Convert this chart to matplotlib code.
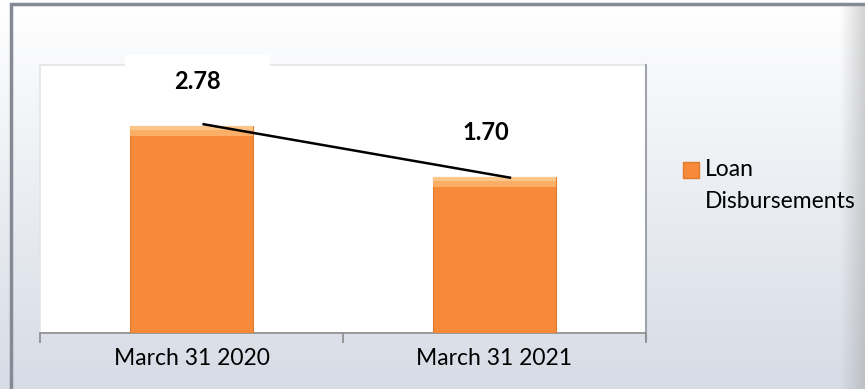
import numpy as np
import matplotlib.pyplot as plt
from matplotlib.patches import Rectangle

# =====================================
# Data
# =====================================
categories = ["March 31 2020", "March 31 2021"]
values = [2.78, 1.70]
labels = ["2.78", "1.70"]
label_dx = [4, -6]          # small horizontal nudges of the value labels (pt)

plt.rcParams['font.family'] = ['Lato', 'DejaVu Sans']

W, H = 865, 389

# =====================================
# Figure + background
# =====================================
fig = plt.figure(figsize=(W / 100, H / 100), dpi=100)

bg = fig.add_axes([0, 0, 1, 1], zorder=-10)
grad = np.linspace(0, 1, 256).reshape(-1, 1)
top_c = np.array([1.0, 1.0, 1.0])
bot_c = np.array([0.84, 0.86, 0.90])
img = top_c * (1 - grad[..., None]) + bot_c * grad[..., None]
img = np.repeat(img, 2, axis=1)
bg.imshow(img, aspect='auto', extent=[0, 1, 0, 1], origin='upper')
# darker bevel on the right edge
ramp = np.linspace(0, 1, 64).reshape(1, -1)
bev = np.ones((1, 64, 4))
bev[..., :3] = 0.62
bev[..., 3] = ramp * 0.45
bg.imshow(bev, aspect='auto', extent=[840 / W, 1, 0, 1 - 4 / H], origin='upper')
bg.set_xlim(0, 1)
bg.set_ylim(0, 1)
bg.axis('off')
# outer border
bg.add_patch(Rectangle((11 / W, -0.01), 1.0, 1 - 4 / H + 0.01,
                       fill=False, edgecolor='#858a94', linewidth=2.5))

# =====================================
# Plot area
# =====================================
ax = fig.add_axes([40 / W, 56 / H, 606 / W, 268 / H])
ax.set_facecolor('white')
x = np.arange(len(categories))
base = -1.605
ax.set_xlim(-0.5, 1.5)
ax.set_ylim(base, 4.07)

# plot area frame (faint edge) and darker right edge
ax.add_patch(Rectangle((0, 0), 1, 1, fill=False, edgecolor='#e2e4e8',
                       linewidth=1.2, transform=ax.transAxes, clip_on=False,
                       zorder=0.5))
ax.add_line(plt.Line2D([1, 1], [-0.026, 1], color='#a0a4aa', linewidth=1.5,
                       transform=ax.transAxes, clip_on=False, zorder=0.5))

ax.bar(x, np.array(values) - base, bottom=base, width=0.403,
       color='#f68a3a', edgecolor='#e07a2c', linewidth=0.8, zorder=3)
# light bevel on the top of each bar
for xi, v in zip(x, values):
    ax.bar(xi, 0.22, bottom=v - 0.22, width=0.403, color='#fbae66',
           linewidth=0, zorder=4)
    ax.bar(xi, 0.08, bottom=v - 0.08, width=0.403, color='#fcc68a',
           linewidth=0, zorder=4)

# connecting line
ax.plot([x[0] + 0.036, x[1] + 0.055], [values[0] + 0.04, values[1] - 0.02],
        color='black', linewidth=1.8, zorder=5, solid_capstyle='butt')

# white label box behind the first value
ax.add_patch(Rectangle((125 / W, (H - 100) / H), 145 / W, 45 / H,
                       facecolor='white', edgecolor='none',
                       transform=fig.transFigure, clip_on=False, zorder=2))

# value labels
for xi, v, lab, dx in zip(x, values, labels, label_dx):
    ax.annotate(lab, (xi, v), xytext=(dx, 32), textcoords='offset points',
                ha='center', va='center', fontsize=17, fontweight='bold',
                color='black', zorder=6, annotation_clip=False)

# axes styling
for s in ['top', 'left', 'right']:
    ax.spines[s].set_visible(False)
ax.spines['bottom'].set_color('#8c8c8c')
ax.spines['bottom'].set_linewidth(1.2)
ax.set_yticks([])
ax.set_xticks([-0.5, 0.5, 1.5])
ax.set_xticklabels([])
ax.tick_params(axis='x', which='major', length=7, color='#8c8c8c', width=1.2)
ax.set_xticks(x, minor=True)
ax.set_xticklabels(categories, minor=True, fontsize=16.5)
ax.tick_params(axis='x', which='minor', length=0, pad=11)

# =====================================
# Legend
# =====================================
fig.add_artist(Rectangle((683 / W, (H - 178) / H), 16 / W, 16 / H,
                         facecolor='#f68a3a', edgecolor='#e07a2c',
                         transform=fig.transFigure))
fig.text(705 / W, (H - 170) / H, "Loan", fontsize=16.5, va='center')
fig.text(705 / W, (H - 202) / H, "Disbursements", fontsize=16.5,
         va='center')

plt.savefig("out.png", dpi=100)
